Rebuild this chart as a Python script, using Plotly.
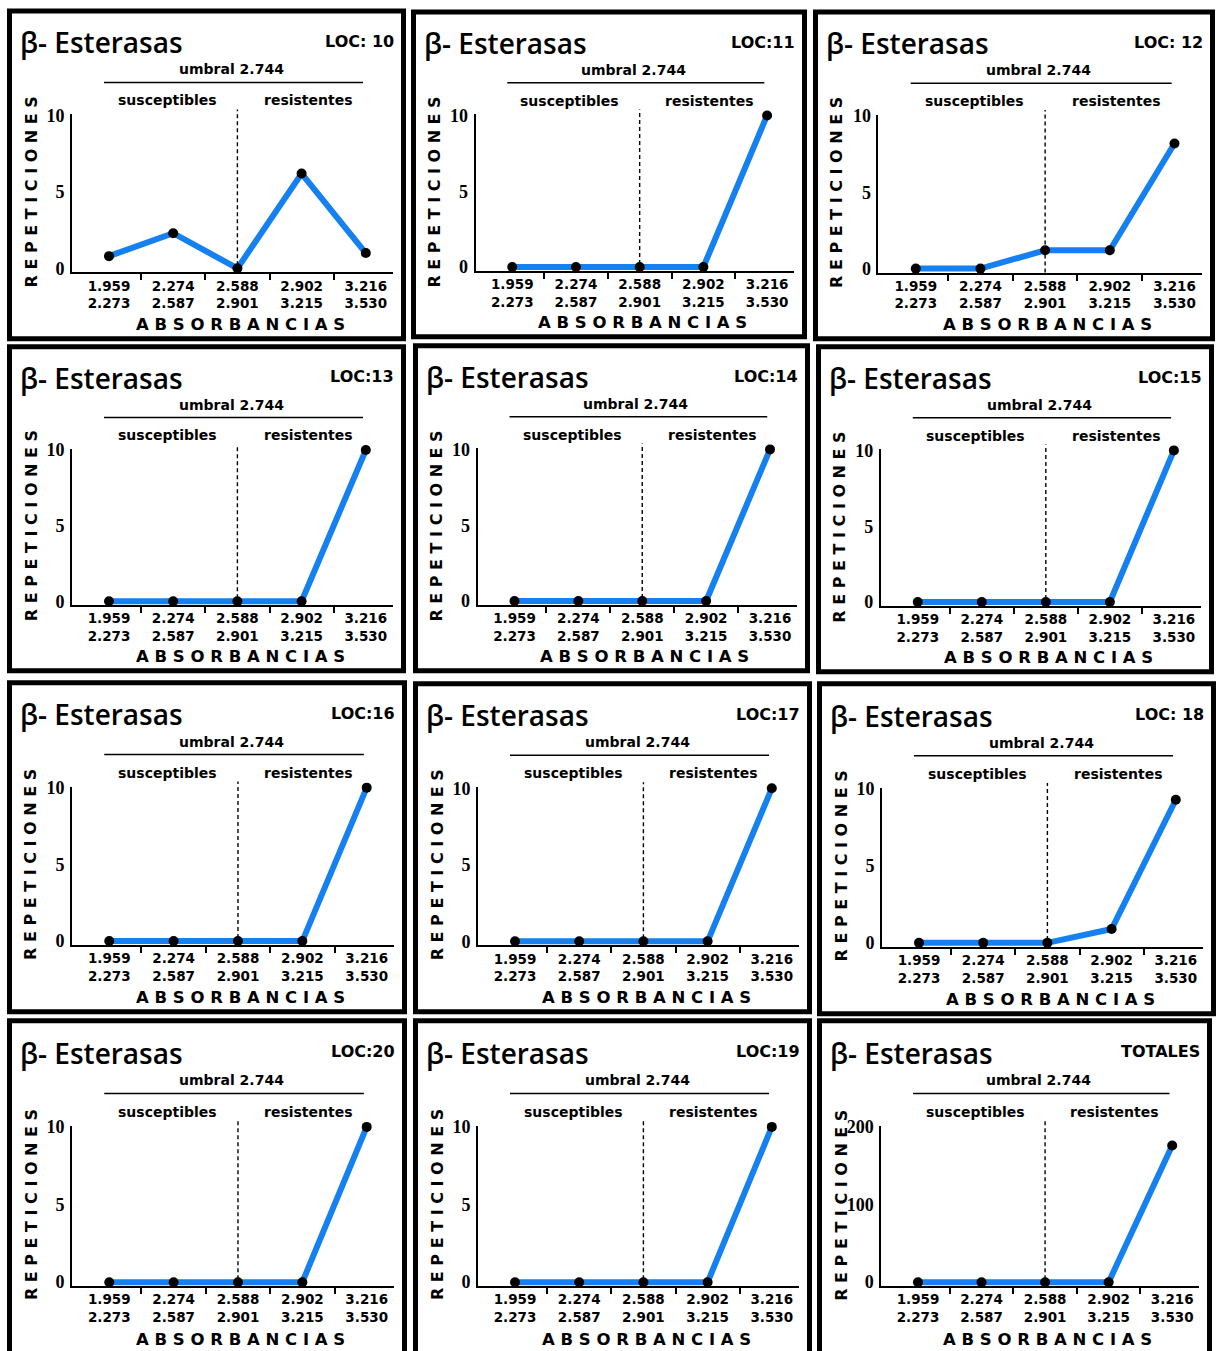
import plotly.graph_objects as go

W, H = 1218, 1351

# ---------------- data ----------------
bin_low = ["1.959", "2.274", "2.588", "2.902", "3.216"]
bin_high = ["2.273", "2.587", "2.901", "3.215", "3.530"]
panel_labels = ["LOC: 10", "LOC:11", "LOC: 12", "LOC:13", "LOC:14", "LOC:15",
                "LOC:16", "LOC:17", "LOC: 18", "LOC:20", "LOC:19", "TOTALES"]
loc10 = [0.8, 2.3, 0, 6.2, 1.0]
loc11 = [0, 0, 0, 0, 10]
loc12 = [0, 0, 1.2, 1.2, 8.2]
loc13 = [0, 0, 0, 0, 10]
loc14 = [0, 0, 0, 0, 10]
loc15 = [0, 0, 0, 0, 10]
loc16 = [0, 0, 0, 0, 10]
loc17 = [0, 0, 0, 0, 10]
loc18 = [0, 0, 0, 0.9, 9.3]
loc20 = [0, 0, 0, 0, 10]
loc19 = [0, 0, 0, 0, 10]
totales = [0, 0, 0, 0, 176]
series = [loc10, loc11, loc12, loc13, loc14, loc15, loc16, loc17, loc18, loc20, loc19, totales]
y_tick_sets = [[0, 5, 10]] * 11 + [[0, 100, 200]]
title_text = "β- Esterasas"
umbral_text = "umbral 2.744"
left_text = "susceptibles"
right_text = "resistentes"
x_title = "A B S O R B A N C I A S"
y_title = "R E P E T I C I O N E S"
threshold_bin = 2

# ---------------- layout geometry (pixels) ----------------
frames = [
    (7, 7, 406, 340), (411, 8, 807, 338), (813, 8, 1215, 340),
    (7, 343, 406, 672), (413, 342, 810, 672), (816, 343, 1214, 673),
    (7, 679, 407, 1013), (413, 680, 812, 1013), (817, 680, 1216, 1015),
    (7, 1017, 407, 1355), (413, 1017, 812, 1355), (817, 1017, 1212, 1355),
]
BLUE = "#1580f0"
CAT0, CATSTEP = 102.0, 64.2


def X(p):
    return p / W


def Y(p):
    # small vertical calibration of the page capture
    return 1 - ((p - 7.6) / 0.989) / H


fig = go.Figure()
annotations = []
shapes = []
layout_axes = {}

for i, (vals, label, yt) in enumerate(zip(series, panel_labels, y_tick_sets)):
    ox0, oy0, ox1, oy1 = frames[i]
    sx = (ox1 - ox0) / 399.0
    sy = (oy1 - oy0) / 333.0

    def px(r):
        return ox0 + r * sx

    def py(r):
        return oy0 + r * sy

    n = i + 1
    xname = "xaxis" if n == 1 else f"xaxis{n}"
    yname = "yaxis" if n == 1 else f"yaxis{n}"
    xref = "x" if n == 1 else f"x{n}"
    yref = "y" if n == 1 else f"y{n}"
    ymax = yt[-1]

    fig.add_trace(go.Scatter(
        x=list(range(len(vals))), y=vals, xaxis=xref, yaxis=yref,
        mode="lines+markers",
        line=dict(color=BLUE, width=6),
        marker=dict(color="black", size=10),
        cliponaxis=False,
        showlegend=False, hoverinfo="skip",
    ))

    layout_axes[xname] = dict(
        domain=[X(px(65)), X(px(386))],
        range=[(65 - CAT0) / CATSTEP, (386 - CAT0) / CATSTEP],
        anchor=yref, showline=True, linecolor="black", linewidth=2,
        showgrid=False, zeroline=False,
        tickmode="array", tickvals=list(range(5)),
        ticktext=[f"<b>{a}</b><br><b>{b}</b>" for a, b in zip(bin_low, bin_high)],
        ticks="", tickfont=dict(family="DejaVu Sans", size=13.5, color="black"),
        minor=dict(tickvals=[0.5, 1.5, 2.5, 3.5], ticks="outside", ticklen=6,
                   tickwidth=2, tickcolor="black", showgrid=False),
        fixedrange=True,
    )
    layout_axes[yname] = dict(
        domain=[Y(py(264)), Y(py(106))],
        range=[-ymax * (264 - 260) / (260 - 107), ymax * (260 - 106) / (260 - 107)],
        anchor=xref, showline=True, linecolor="black", linewidth=2,
        showgrid=False, zeroline=False,
        tickmode="array", tickvals=yt, ticktext=[f"<b>{v}</b>" for v in yt],
        ticks="", tickfont=dict(family="Liberation Serif", size=18, color="black"),
        ticklabelstandoff=2,
        fixedrange=True,
    )

    # panel frame
    shapes.append(dict(type="rect", xref="paper", yref="paper",
                       x0=X(ox0 + 2.5), x1=X(ox1 - 2.5), y0=Y(oy0 + 2.5), y1=Y(oy1 - 2.5),
                       line=dict(color="black", width=5)))
    # threshold underline
    shapes.append(dict(type="line", xref="paper", yref="paper",
                       x0=X(px(97)), x1=X(px(356)), y0=Y(py(74)), y1=Y(py(74)),
                       line=dict(color="black", width=1.5)))
    # dashed threshold divider
    shapes.append(dict(type="line", xref=xref, yref="paper",
                       x0=threshold_bin, x1=threshold_bin, y0=Y(py(264)), y1=Y(py(101)),
                       line=dict(color="black", width=1.4, dash="4px,3px")))

    annotations += [
        dict(text=title_text, x=X(px(11)), y=Y(py(34)), xanchor="left", yanchor="middle",
             font=dict(family="Open Sans", size=28, color="black", weight=600)),
        dict(text=f"<b>{label}</b>", x=X(px(389)), y=Y(py(33)), xanchor="right", yanchor="middle",
             font=dict(family="DejaVu Sans", size=16, color="black")),
        dict(text=f"<b>{umbral_text}</b>", x=X(px(224)), y=Y(py(61)), xanchor="center", yanchor="middle",
             font=dict(family="DejaVu Sans", size=14, color="black")),
        dict(text=f"<b>{left_text}</b>", x=X(px(160)), y=Y(py(92)), xanchor="center", yanchor="middle",
             font=dict(family="DejaVu Sans", size=14, color="black")),
        dict(text=f"<b>{right_text}</b>", x=X(px(301)), y=Y(py(92)), xanchor="center", yanchor="middle",
             font=dict(family="DejaVu Sans", size=14, color="black")),
        dict(text=f"<b>{x_title}</b>", x=X(px(233)), y=Y(py(316)), xanchor="center", yanchor="middle",
             font=dict(family="DejaVu Sans", size=16.5, color="black")),
        dict(text=f"<b>{y_title}</b>", x=X(px(24)), y=Y(py(184)), xanchor="center", yanchor="middle",
             textangle=-90, font=dict(family="DejaVu Sans", size=16, color="black")),
    ]

for a in annotations:
    a.update(xref="paper", yref="paper", showarrow=False)

fig.update_layout(
    width=W, height=H,
    margin=dict(l=0, r=0, t=0, b=0),
    paper_bgcolor="white", plot_bgcolor="white",
    showlegend=False,
    annotations=annotations, shapes=shapes,
    **layout_axes,
)

fig.write_html("out.html", config={"displayModeBar": False})
